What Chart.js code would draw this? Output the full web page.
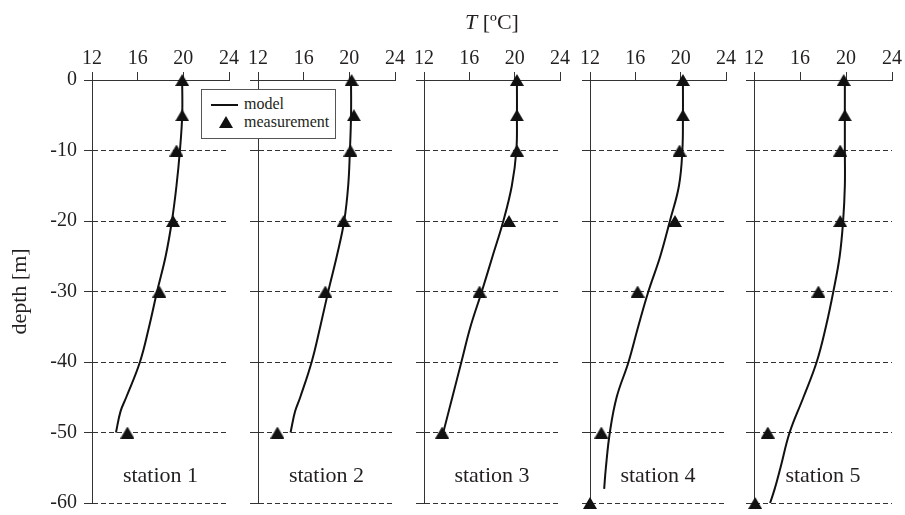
<!DOCTYPE html>
<html lang="en">
<head>
<meta charset="UTF-8" />
<title>Temperature profiles, stations 1-5</title>
<script src="https://cdn.jsdelivr.net/npm/chart.js@4.4.1/dist/chart.umd.min.js"></script>
<style>
  body { margin: 0; background: #fff; }
  #wrap { position: relative; width: 905px; height: 515px; overflow: hidden;
          font-family: 'Liberation Serif', 'Times New Roman', serif; color: #231f20; }
  #wrap canvas { position: absolute; top: 0; }
  /* legend box drawn over panels 1-2 */
  .legend { position: absolute; left: 201px; top: 89px; width: 133px; height: 48px;
            border: 1px solid #555; background: #fff; z-index: 5; font-size: 16px; }
  .legend .row { position: absolute; left: 42px; line-height: 16px; }
  .legend .line { position: absolute; left: 9px; top: 14px; width: 27px; border-top: 2px solid #111; }
  .legend .tri { position: absolute; left: 17px; top: 26px; width: 0; height: 0;
                 border-left: 7px solid transparent; border-right: 7px solid transparent;
                 border-bottom: 12px solid #111; }
</style>
</head>
<body>
<div id="wrap">
  <canvas id="p1"></canvas>
  <canvas id="p2"></canvas>
  <canvas id="p3"></canvas>
  <canvas id="p4"></canvas>
  <canvas id="p5"></canvas>
  <div class="legend">
    <div class="line"></div><div class="row" style="top:6px">model</div>
    <div class="tri"></div><div class="row" style="top:24px">measurement</div>
  </div>
</div>

<script>
// station names
const stationNames = ['station 1', 'station 2', 'station 3', 'station 4', 'station 5'];

// axis ticks
const tempTicks = [12, 16, 20, 24];
const depthTicks = [0, -10, -20, -30, -40, -50, -60];

// measurement depths [m]
const measDepth = [0, -5, -10, -20, -30, -50, -60];

// measured temperature [ºC] (stations 1-3 have no -60 value)
const meas1 = [19.9, 19.9, 19.4, 19.1, 17.9, 15.1];
const meas2 = [20.2, 20.4, 20.1, 19.5, 17.9, 13.7];
const meas3 = [20.2, 20.2, 20.2, 19.5, 16.9, 13.6];
const meas4 = [20.2, 20.2, 19.9, 19.5, 16.2, 13.0, 12.0];
const meas5 = [19.8, 19.9, 19.5, 19.5, 17.6, 13.2, 12.1];

// model depths [m]
const modelDepth1 = [0, -5, -10, -15, -20, -25, -30, -35, -40, -45, -47, -50];
const modelDepth2 = [0, -5, -10, -15, -20, -25, -30, -35, -40, -45, -47, -50];
const modelDepth3 = [0, -5, -10, -15, -20, -25, -30, -35, -40, -45, -50];
const modelDepth4 = [0, -5, -10, -15, -20, -25, -30, -35, -40, -45, -50, -55, -58];
const modelDepth5 = [0, -5, -10, -15, -20, -25, -30, -35, -40, -45, -50, -55, -58, -60];

// model temperature [ºC]
const model1 = [19.9, 19.9, 19.7, 19.4, 19.0, 18.45, 17.7, 17.0, 16.2, 15.0, 14.5, 14.1];
const model2 = [20.15, 20.15, 20.05, 19.9, 19.55, 18.9, 18.15, 17.45, 16.7, 15.7, 15.25, 14.85];
const model3 = [20.2, 20.2, 20.15, 19.75, 19.0, 18.05, 17.1, 16.1, 15.3, 14.5, 13.7];
const model4 = [20.2, 20.2, 20.15, 19.85, 19.05, 18.2, 17.15, 16.25, 15.4, 14.35, 13.75, 13.4, 13.25];
const model5 = [19.9, 19.9, 19.9, 19.9, 19.75, 19.45, 18.9, 18.25, 17.45, 16.3, 15.1, 14.3, 13.8, 13.4];

const measAll = [meas1, meas2, meas3, meas4, meas5];
const modelAll = [model1, model2, model3, model4, model5];
const modelDepthAll = [modelDepth1, modelDepth2, modelDepth3, modelDepth4, modelDepth5];

// panel plot area edges (page px)
const panelLeft = [92, 258, 424, 590, 754];
const panelRight = [229, 395, 560, 726, 892];

const ink = '#231f20';
const axisCol = '#333';
const serif = "'Liberation Serif', 'Times New Roman', serif";
Chart.defaults.font.family = serif;
Chart.defaults.color = ink;

// triangle marker centred on its bounding box (14 x 12)
const triMark = document.createElement('canvas');
triMark.width = 14; triMark.height = 12;
(() => {
  const c = triMark.getContext('2d');
  c.fillStyle = '#111';
  c.beginPath(); c.moveTo(7, 0); c.lineTo(14, 12); c.lineTo(0, 12); c.closePath(); c.fill();
})();

// station label inside each panel + overall title on panel 3
const panelText = {
  id: 'panelText',
  afterDraw(chart, args, opts) {
    const { ctx, chartArea } = chart;
    const cx = (chartArea.left + chartArea.right) / 2;
    ctx.save();
    ctx.fillStyle = ink;
    ctx.textAlign = 'center';
    ctx.textBaseline = 'alphabetic';
    ctx.font = '22px ' + serif;
    ctx.fillText(opts.name, cx, chartArea.bottom - 21);
    if (opts.title) {
      // T [ºC] with italic T
      const rest = ' [ºC]';
      ctx.font = 'italic 22px ' + serif;
      const wT = ctx.measureText('T').width;
      ctx.font = '22px ' + serif;
      const wR = ctx.measureText(rest).width;
      const x0 = cx - (wT + wR) / 2;
      ctx.textAlign = 'left';
      ctx.font = 'italic 22px ' + serif;
      ctx.fillText('T', x0, 29);
      ctx.font = '22px ' + serif;
      ctx.fillText(rest, x0 + wT, 29);
    }
    ctx.restore();
  }
};

function zeroPad(s) {
  s.paddingTop = 0; s.paddingBottom = 0; s.paddingLeft = 0; s.paddingRight = 0;
}

function makePanel(i) {
  const canvas = document.getElementById('p' + (i + 1));
  const first = i === 0;
  const leftW = first ? panelLeft[0] : 10;
  const x0 = panelLeft[i] - leftW;
  const w = panelRight[i] + 12 - x0;
  canvas.width = w;
  canvas.height = 515;
  canvas.style.left = x0 + 'px';

  const measPts = measAll[i].map((t, k) => ({ x: t, y: measDepth[k] }));
  const modelPts = modelAll[i].map((t, k) => ({ x: t, y: modelDepthAll[i][k] }));

  return new Chart(canvas, {
    type: 'scatter',
    data: {
      datasets: [
        {
          label: 'model',
          data: modelPts,
          showLine: true,
          borderColor: '#111',
          borderWidth: 2,
          pointRadius: 0,
          tension: 0.4,
          clip: false
        },
        {
          label: 'measurement',
          data: measPts,
          pointStyle: triMark,
          pointRadius: 7,
          clip: false
        }
      ]
    },
    options: {
      responsive: false,
      animation: false,
      layout: { padding: { left: 0, right: 12, top: 0, bottom: 12 } },
      scales: {
        x: {
          type: 'linear',
          position: 'top',
          min: 12,
          max: 24,
          afterBuildTicks: s => { s.ticks = tempTicks.map(v => ({ value: v })); },
          ticks: { font: { size: 20 }, color: ink, padding: 1 },
          grid: { drawOnChartArea: false, color: axisCol, tickLength: 8 },
          border: { color: axisCol },
          afterFit: s => { s.height = 80; zeroPad(s); }
        },
        y: {
          type: 'linear',
          min: -60,
          max: 0,
          afterBuildTicks: s => { s.ticks = depthTicks.map(v => ({ value: v })); },
          ticks: { display: first, font: { size: 20 }, color: ink, padding: 7 },
          grid: { color: axisCol, tickLength: 8 },
          border: { color: axisCol, dash: [5, 3] },
          title: {
            display: first,
            text: 'depth [m]',
            font: { size: 22 },
            color: ink,
            padding: { top: 7, bottom: 0 }
          },
          afterFit: s => { s.width = leftW; zeroPad(s); }
        }
      },
      plugins: {
        legend: { display: false },
        tooltip: { enabled: false },
        panelText: { name: stationNames[i], title: i === 2 }
      }
    },
    plugins: [panelText]
  });
}

for (let i = 0; i < 5; i++) makePanel(i);
</script>
</body>
</html>
